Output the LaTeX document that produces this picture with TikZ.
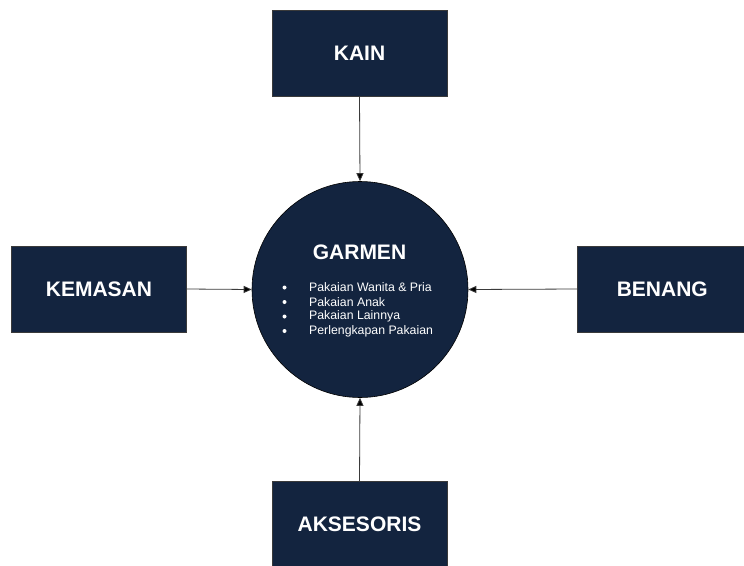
\documentclass[tikz,border=0pt]{standalone}
\usepackage{fontspec}
\setmainfont{Liberation Sans}
\usetikzlibrary{arrows.meta}
\definecolor{navy}{HTML}{13243F}
\definecolor{edge}{HTML}{3A3A3A}
\tikzset{
  srcbox/.style={draw=edge, line width=0.6pt, fill=navy, minimum width=175pt, minimum height=86pt,
    inner sep=0pt, text=white, font=\bfseries\fontsize{21}{25}\selectfont},
  hub/.style={circle, draw=black, line width=0.6pt, fill=navy, minimum size=216pt, inner sep=0pt},
  feed/.style={draw=edge, line width=0.8pt, -{Triangle[length=8pt,width=7pt,fill=black]}},
  item/.style={text=white, anchor=west, inner sep=0pt, font=\fontsize{12.3}{14}\selectfont},
  dot/.style={circle, fill=white, inner sep=0pt, minimum size=4pt}
}
\begin{document}
\begin{tikzpicture}[x=1pt, y=-1pt]
  \useasboundingbox (0,0) rectangle (744,565);
  % central hub
  \node[hub] (garmen) at (360,289.5) {};
  \node[text=white, font=\bfseries\fontsize{21}{25}\selectfont] (title) at (359.5,252) {GARMEN};
  \foreach \i/\t [count=\k] in {0/Pakaian Wanita \& Pria, 1/Pakaian Anak, 2/Pakaian Lainnya, 3/Perlengkapan Pakaian} {
    \node[dot] (b\k) at (284.5,287.5+14.5*\i) {};
    \node[item] (t\k) at (309,287.5+14.5*\i) {\t};
  }
  % input sources
  \node[srcbox] (kain) at (359.5,53.5) {KAIN};
  \node[srcbox] (kemasan) at (99,289) {KEMASAN};
  \node[srcbox, minimum width=170pt, anchor=west] (benang) at (577,289) {BENANG};
  \node[srcbox] (aksesoris) at (359.5,524.5) {AKSESORIS};
  % connectors into the hub
  \draw[feed] (kain.south) -- (garmen.north);
  \draw[feed] (kemasan.east) -- (garmen.west);
  \draw[feed] (benang.west) -- (garmen.east);
  \draw[feed] (aksesoris.north) -- (garmen.south);
\end{tikzpicture}
\end{document}
